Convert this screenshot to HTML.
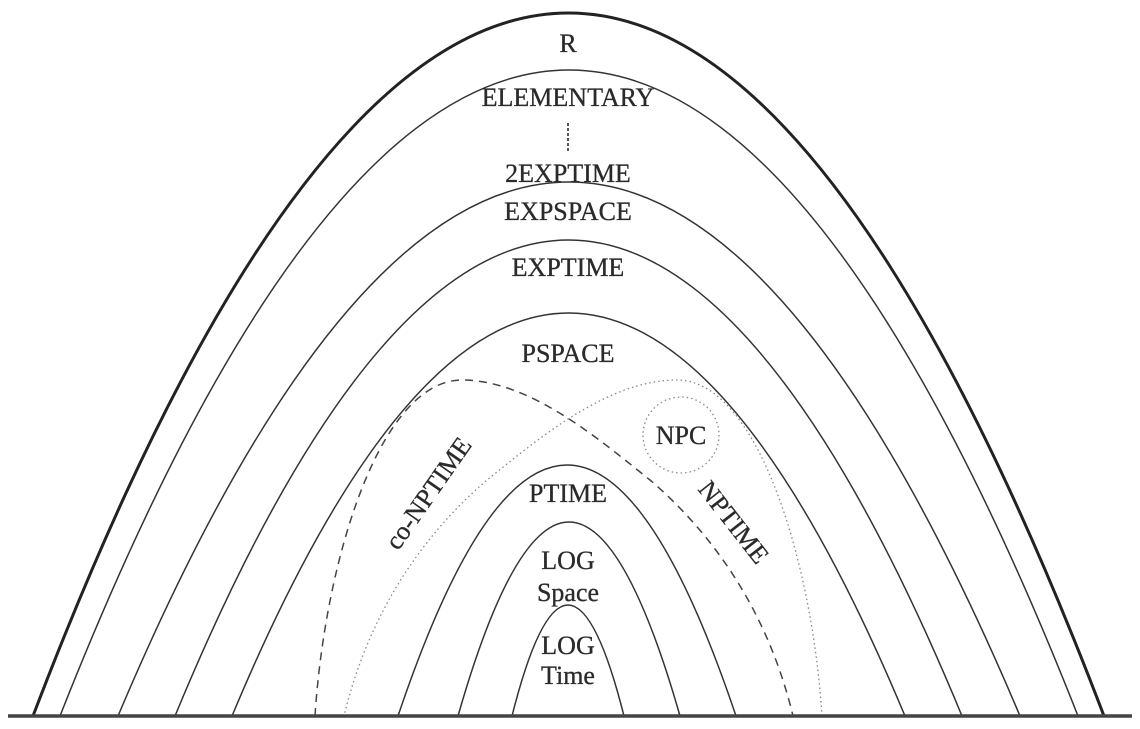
<!DOCTYPE html>
<html><head><meta charset="utf-8"><style>
html,body{margin:0;padding:0;background:#fff;}
svg{display:block;}
text{font-family:"Liberation Serif",serif;font-size:26px;fill:#2a2a2a;stroke:#2a2a2a;stroke-width:0.3;text-anchor:middle;}
</style></head><body>
<svg width="1140" height="729" viewBox="0 0 1140 729" xmlns="http://www.w3.org/2000/svg">
<g fill="none" stroke="#333" stroke-width="1.5">
<path d="M33,716 Q568.5,-690 1104,716" stroke-width="3" stroke="#222"/>
<path d="M60,716 Q569,-576 1078,716"/>
<path d="M118,716 Q569,-352 1020,716"/>
<path d="M175,716 Q568.5,-236 962,716"/>
<path d="M232,716 Q568.5,-90 905,716"/>
<path d="M398,716 Q567,214 736,716"/>
<path d="M458,716 Q569,328 680,716"/>
<path d="M512,716 Q568,494 624,716"/>
<path d="M315,716 C325,560 380,380 462,380 C530,380 600,440 650,480 C720,540 770,620 793,716" stroke="#444" stroke-dasharray="8,6"/>
<path d="M822,716 C812,560 757,380 677,380 C607,380 537,440 487,480 C417,540 367,620 344,716" stroke="#888" stroke-width="1.3" stroke-dasharray="1.5,3"/>
<circle cx="681" cy="435" r="38" stroke="#888" stroke-width="1.3" stroke-dasharray="1.5,3"/>
<line x1="568" y1="123" x2="568" y2="151" stroke="#555" stroke-width="2" stroke-dasharray="3,2"/>
</g>
<line x1="8" y1="716" x2="1132" y2="716" stroke="#444" stroke-width="3.5"/>
<text x="568" y="52">R</text>
<text x="568" y="106">ELEMENTARY</text>
<text x="568" y="182">2EXPTIME</text>
<text x="568" y="220">EXPSPACE</text>
<text x="568" y="276">EXPTIME</text>
<text x="568" y="362">PSPACE</text>
<text x="568" y="502">PTIME</text>
<text x="568" y="569">LOG</text>
<text x="568" y="601">Space</text>
<text x="568" y="654">LOG</text>
<text x="568" y="684">Time</text>
<text x="681" y="444">NPC</text>
<text x="428" y="502" transform="rotate(-55 428 493)">co-NPTIME</text>
<text x="734" y="531" transform="rotate(52 734 522)">NPTIME</text>
</svg>
</body></html>
